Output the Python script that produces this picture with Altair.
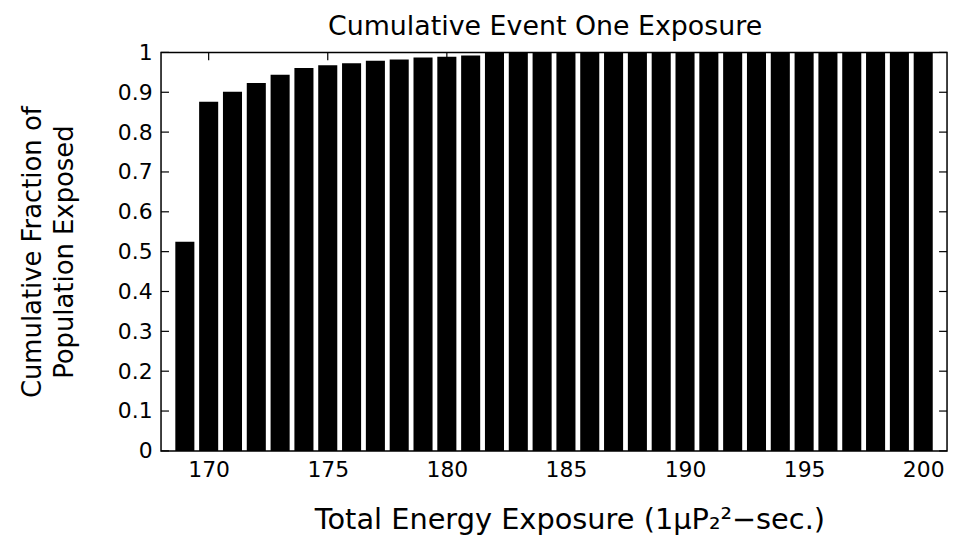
import altair as alt
import pandas as pd

energy = list(range(169, 201))
fraction = [0.525, 0.876, 0.901, 0.923, 0.944, 0.961, 0.968, 0.973, 0.979,
            0.982, 0.987, 0.989, 0.992] + [1.0] * 19
x_ticks = [170, 175, 180, 185, 190, 195, 200]
y_ticks = [0, 0.1, 0.2, 0.3, 0.4, 0.5, 0.6, 0.7, 0.8, 0.9, 1]

df = pd.DataFrame({"energy": energy, "fraction": fraction})
xt = pd.DataFrame({"v": x_ticks})
yt = pd.DataFrame({"v": y_ticks})

W, H = 791, 401
FONT = "DejaVu Sans"
xscale = alt.Scale(domain=[168, 201], nice=False, zero=False)
yscale = alt.Scale(domain=[0, 1], nice=False)

bars = alt.Chart(df).transform_calculate(
    x0="datum.energy - 0.4", x1="datum.energy + 0.4"
).mark_bar(color="black").encode(
    x=alt.X("x0:Q", scale=xscale,
            axis=alt.Axis(values=x_ticks, format="d",
                          title="Total Energy Exposure (1μP₂²−sec.)",
                          titlePadding=25, titleX=411, titleFontSize=29)),
    x2="x1:Q",
    y=alt.Y("fraction:Q", scale=yscale,
            axis=alt.Axis(values=y_ticks, format="~g",
                          title=["Cumulative Fraction of", "Population Exposed"],
                          titlePadding=40, titleLineHeight=32,
                          titleFontSize=26, titleLimit=600)),
    y2=alt.datum(0),
)

left_ticks = alt.Chart(yt).mark_rule(color="black", strokeWidth=1.2).encode(
    y=alt.Y("v:Q", scale=yscale), x=alt.value(0), x2=alt.value(8))
right_ticks = alt.Chart(yt).mark_rule(color="black", strokeWidth=1.2).encode(
    y=alt.Y("v:Q", scale=yscale), x=alt.value(W - 8), x2=alt.value(W))
top_ticks = alt.Chart(xt).mark_rule(color="black", strokeWidth=1.2).encode(
    x=alt.X("v:Q", scale=xscale), y=alt.value(0), y2=alt.value(8))

chart = alt.layer(bars, left_ticks, right_ticks, top_ticks).properties(
    width=W, height=H,
    background="white",
    title=alt.TitleParams("Cumulative Event One Exposure", fontSize=27,
                          font=FONT, fontWeight="normal", color="black",
                          offset=1, dx=-9),
    autosize=alt.AutoSizeParams(type="none"),
    padding={"left": 154, "top": 43, "right": 5, "bottom": 90},
).configure_view(stroke="black", strokeWidth=1.5).configure_axis(
    labelFont=FONT, titleFont=FONT, labelFontSize=22,
    labelColor="black", titleColor="black", titleFontWeight="normal",
    domain=False, ticks=False, grid=False, labelPadding=9,
)

chart.save("out.html", embed_options={"renderer": "svg", "actions": False})
